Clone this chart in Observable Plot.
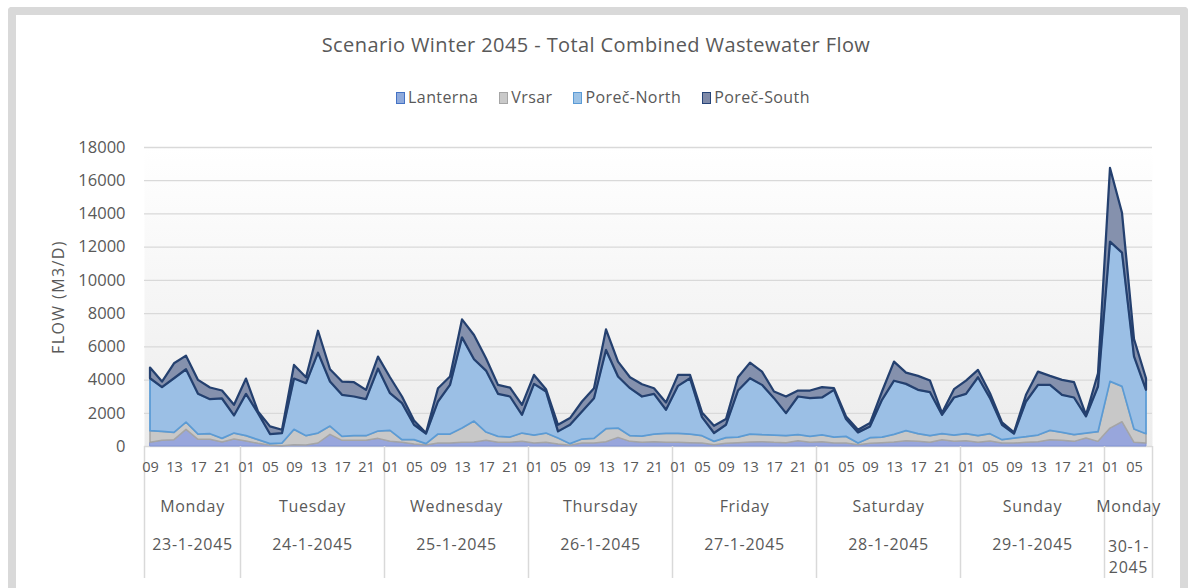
<!DOCTYPE html>
<html>
<head>
<meta charset="utf-8">
<script src="https://cdn.jsdelivr.net/npm/d3@7"></script>
<script src="https://cdn.jsdelivr.net/npm/@observablehq/plot@0.6"></script>
<style>
  html, body { margin: 0; padding: 0; background: #ffffff; }
  body { font-family: "Open Sans", sans-serif; color: #595959; }
  #wrap { position: relative; width: 1192px; height: 588px; overflow: hidden; }
  #frame { position: absolute; left: 8px; top: 7px; width: 1180px; height: 620px; border: 8px solid #d9d9d9; border-bottom: none; border-radius: 4px 4px 0 0; box-sizing: border-box; }
  #title { position: absolute; top: 31px; left: 0; width: 1192px; text-align: center; font-size: 20px; letter-spacing: 0.4px; color: #595959; }
  #legend { position: absolute; top: 86px; left: 7px; width: 1192px; text-align: center; font-size: 16px; letter-spacing: 0.4px; color: #595959; white-space: nowrap; }
  #legend .item { display: inline-block; margin: 0 10.5px; }
  #legend .sw { display: inline-block; width: 7px; height: 10px; border: 1.5px solid; vertical-align: -1px; margin-right: 3px; }
  #chart { position: absolute; left: 0; top: 120px; }
</style>
</head>
<body>
<div id="wrap">
  <div id="frame"></div>
  <div id="title"></div>
  <div id="legend"></div>
  <div id="chart"></div>
</div>
<script>
// ---- Data ----
const title = "Scenario Winter 2045 - Total Combined Wastewater Flow";
const yLabel = "FLOW (M3/D)";

const seriesNames = ["Lanterna", "Vrsar", "Poreč-North", "Poreč-South"];
const seriesFill = ["#98a6dc", "#c8c8c8", "#9bbfe5", "#8591ad"];
const seriesStroke = ["#8295d4", "#a5a5a5", "#5b9bd5", "#24406f"];
const seriesStrokeWidth = [1, 1.5, 1.75, 2.25];
const legendFill = ["#8faadc", "#c9c9c9", "#9dc3e6", "#7f8aa8"];
const legendStroke = ["#4472c4", "#a5a5a5", "#5b9bd5", "#264478"];

// two-hourly categories (hour of day), Monday 23-1-2045 09h ... Monday 30-1-2045 07h
const hours = (
  "09 11 13 15 17 19 21 23 " +
  "01 03 05 07 09 11 13 15 17 19 21 23 " +
  "01 03 05 07 09 11 13 15 17 19 21 23 " +
  "01 03 05 07 09 11 13 15 17 19 21 23 " +
  "01 03 05 07 09 11 13 15 17 19 21 23 " +
  "01 03 05 07 09 11 13 15 17 19 21 23 " +
  "01 03 05 07 09 11 13 15 17 19 21 23 " +
  "01 03 05 07"
).split(" ");

const dayNames = ["Monday", "Tuesday", "Wednesday", "Thursday", "Friday", "Saturday", "Sunday", "Monday"];
const dayDates = ["23-1-2045", "24-1-2045", "25-1-2045", "26-1-2045", "27-1-2045", "28-1-2045", "29-1-2045", "30-1-2045"];

const yTicks = [0, 2000, 4000, 6000, 8000, 10000, 12000, 14000, 16000, 18000];

const lanterna = [
  220, 340, 380, 1000, 400, 400, 240, 420, 300, 160, 40, 20, 80, 60, 180, 700, 340, 340, 340, 460, 280,
  220, 120, 60, 180, 180, 220, 240, 340, 220, 220, 280, 180, 220, 120, 40, 180, 180, 260, 520, 280, 220,
  260, 220, 220, 200, 180, 80, 160, 200, 240, 260, 220, 200, 320, 220, 260, 180, 180, 80, 160, 200, 240,
  320, 280, 220, 380, 280, 320, 220, 300, 180, 180, 220, 260, 380, 340, 280, 480, 280, 1080, 1460, 220, 180
];
const vrsar = [
  700, 540, 440, 440, 320, 340, 220, 360, 320, 220, 100, 160, 920, 560, 600, 500, 240, 290, 280, 440, 660,
  160, 260, 80, 540, 540, 860, 1260, 500, 360, 320, 500, 480, 560, 360, 100, 240, 280, 780, 560, 340, 380,
  460, 540, 540, 520, 440, 200, 340, 340, 480, 420, 440, 420, 370, 360, 410, 360, 400, 100, 340, 330, 460,
  610, 460, 400, 360, 380, 420, 400, 440, 200, 300, 340, 400, 560, 480, 400, 300, 580, 2810, 2130, 800, 560
];
const porecNorth = [
  3160, 2660, 3260, 3180, 2420, 2080, 2400, 1060, 2520, 1600, 580, 600, 3060, 3160, 4840, 2680, 2500, 2350, 2200, 3760, 2240,
  2200, 900, 600, 1960, 2960, 5460, 3720, 3700, 2560, 2440, 1100, 3080, 2500, 400, 1140, 1660, 2420, 4740, 3100, 2860, 2380,
  2420, 1420, 2860, 3360, 1120, 500, 780, 2800, 3360, 3000, 2220, 1360, 2290, 2300, 2250, 2840, 1040, 640, 680, 2250, 3230,
  2810, 2640, 2620, 1140, 2260, 2400, 3520, 2140, 900, 260, 2120, 3020, 2740, 2260, 2240, 1000, 2720, 8410, 8050, 4380, 2640
];
const porecSouth = [
  640, 340, 900, 820, 840, 700, 480, 640, 920, 100, 460, 200, 820, 360, 1320, 740, 800, 860, 560, 720, 960,
  400, 260, 40, 800, 500, 1080, 1460, 740, 540, 540, 600, 540, 140, 400, 400, 600, 600, 1240, 900, 660, 740,
  340, 440, 660, 200, 280, 440, 340, 800, 940, 800, 400, 1000, 360, 460, 620, 100, 160, 160, 200, 500, 1150,
  680, 840, 700, 100, 500, 800, 440, 300, 140, 80, 400, 800, 540, 900, 920, 100, 800, 4440, 2400, 1040, 700
];

// ---- Tables built from the arrays ----
const seriesValues = [lanterna, vrsar, porecNorth, porecSouth];
const n = hours.length;
const rows = hours.map((h, i) => {
  const r = { i, hour: h };
  seriesNames.forEach((s, k) => { r[s] = seriesValues[k][i]; });
  return r;
});
const layers = d3.stack().keys(seriesNames)(rows);

// day segments: a new day starts where the hour wraps to "01"
const starts = [0, ...hours.map((h, i) => (i > 0 && h === "01") ? i : -1).filter(i => i > 0)];
const days = starts.map((s, k) => {
  const e = k + 1 < starts.length ? starts[k + 1] : n;
  return { name: dayNames[k], date: dayDates[k], mid: (s + e - 1) / 2, span: e - s };
});
const boundaries = [...starts.map(s => s - 0.5), n - 0.5];
const hourTicks = hours.map((h, i) => i).filter(i => i % 2 === 0);

// ---- Title and legend (HTML) ----
document.getElementById("title").textContent = title;
const legend = document.getElementById("legend");
seriesNames.forEach((s, k) => {
  const it = document.createElement("span");
  it.className = "item";
  const sw = document.createElement("span");
  sw.className = "sw";
  sw.style.background = legendFill[k];
  sw.style.borderColor = legendStroke[k];
  it.appendChild(sw);
  it.appendChild(document.createTextNode(s));
  legend.appendChild(it);
});

// ---- Chart ----
const textColor = "#595959";
const svg = Plot.plot({
  width: 1192,
  height: 468,
  marginLeft: 144,
  marginRight: 40,
  marginTop: 27,
  marginBottom: 142,
  style: { fontFamily: '"Open Sans", sans-serif', fontSize: "15px", color: textColor, background: "transparent", overflow: "visible" },
  x: { domain: [-0.5, n - 0.5] },
  y: { domain: [0, 18000] },
  marks: [
    Plot.frame({ fill: "url(#plotBg)", stroke: "none" }),
    Plot.gridY(yTicks, { stroke: "#d9d9d9", strokeOpacity: 1, strokeWidth: 1.3 }),
    ...layers.map((layer, k) => Plot.areaY(layer, {
      x: d => d.data.i,
      y1: d => d[0],
      y2: d => d[1],
      fill: seriesFill[k],
      fillOpacity: 1,
      stroke: seriesStroke[k],
      strokeWidth: seriesStrokeWidth[k],
      strokeLinejoin: "round"
    })),
    Plot.axisY({ ticks: yTicks, tickSize: 0, tickPadding: 19, tickFormat: d3.format("d"), fontSize: 16.5, fill: textColor, label: null }),
    Plot.axisX({ ticks: boundaries, tickSize: 132, stroke: "#d9d9d9", strokeWidth: 1.5, strokeOpacity: 1, tickFormat: () => "", label: null }),
    Plot.axisX({ ticks: hourTicks, tickSize: 0, tickPadding: 15.5, tickFormat: i => hours[i], fontSize: 14.5, fill: textColor, label: null }),
    Plot.text(days, { x: "mid", text: "name", frameAnchor: "bottom", dy: 65.5, fontSize: 16, fill: textColor }),
    Plot.text(days.filter(d => d.span > 6), { x: "mid", text: "date", frameAnchor: "bottom", dy: 103.5, fontSize: 16, fill: textColor }),
    Plot.text(days.filter(d => d.span <= 6), { x: "mid", text: "date", frameAnchor: "bottom", lineAnchor: "top", dy: 90, lineWidth: 3.2, lineHeight: 1.32, fontSize: 16, fill: textColor }),
    Plot.text([yLabel], { text: d => d, frameAnchor: "left", textAnchor: "middle", rotate: -90, dx: -86, fontSize: 16, fill: textColor })
  ]
});

// letter spacing for the category and axis-title texts (to match the reference's wide lettering)
const spaced = new Set([...dayNames, ...dayDates, yLabel]);
d3.select(svg).selectAll("text").each(function () {
  const t = this.textContent;
  if (spaced.has(t) || (t && t.endsWith("-")) || t === "2045") {
    d3.select(this.tagName === "tspan" ? this.parentNode : this).attr("letter-spacing", t === yLabel ? "1.4px" : "0.7px");
  }
});

// vertical gradient for the plot-area background
const defs = d3.select(svg).insert("defs", ":first-child");
const grad = defs.append("linearGradient").attr("id", "plotBg").attr("x1", 0).attr("y1", 0).attr("x2", 0).attr("y2", 1);
grad.append("stop").attr("offset", "0%").attr("stop-color", "#ffffff");
grad.append("stop").attr("offset", "100%").attr("stop-color", "#ececec");

document.getElementById("chart").appendChild(svg);
</script>
</body>
</html>
